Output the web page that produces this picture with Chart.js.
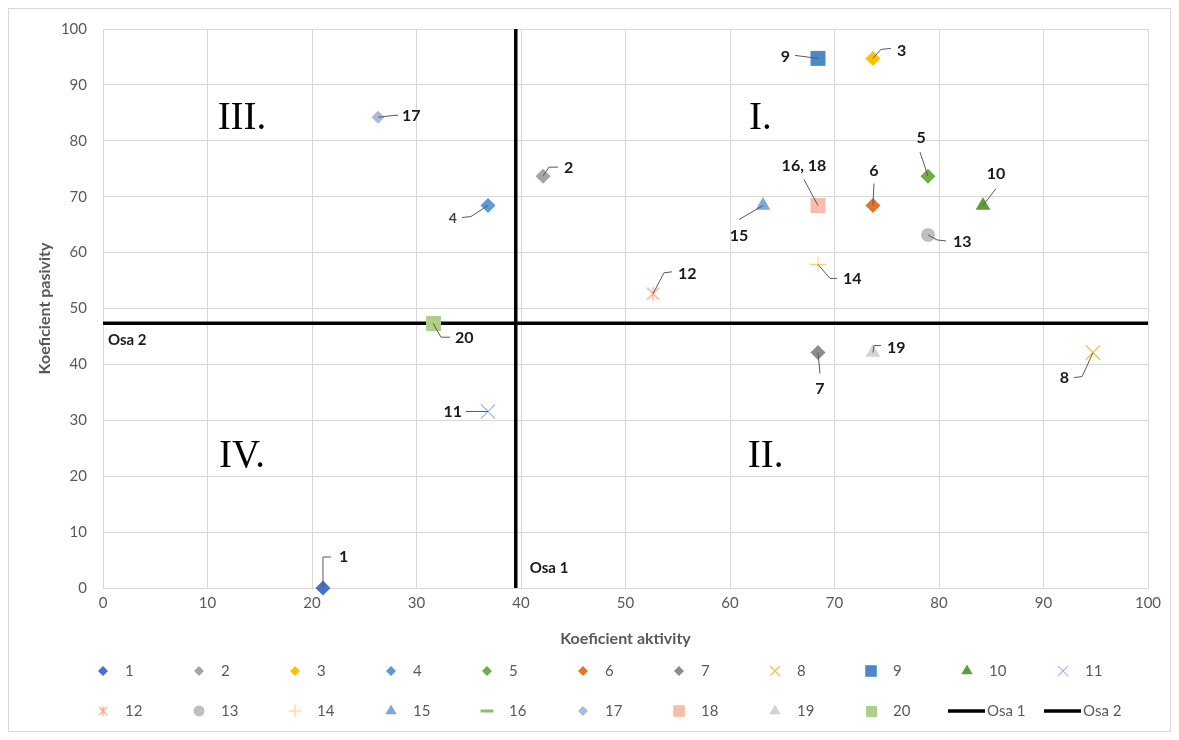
<!DOCTYPE html>
<html>
<head>
<meta charset="utf-8">
<script src="https://cdn.jsdelivr.net/npm/chart.js@4.4.0/dist/chart.umd.min.js"></script>
<style>
body { margin: 0; background: #fff; }
#wrap { position: relative; width: 1179px; height: 740px; }
#frame { position: absolute; left: 8px; top: 8px; width: 1161px; height: 722px; border: 1px solid #d9d9d9; pointer-events: none; }
</style>
</head>
<body>
<div id="wrap">
  <canvas id="myChart" width="1179" height="740"></canvas>
  <div id="frame"></div>
</div>
<script>
// data
var nazvy = ['1','2','3','4','5','6','7','8','9','10','11','12','13','14','15','16','17','18','19','20'];
var aktivita = [21.05, 42.11, 73.68, 36.84, 78.95, 73.68, 68.42, 94.74, 68.42, 84.21, 36.84, 52.63, 78.95, 68.42, 63.16, 68.42, 26.32, 68.42, 73.68, 31.58];
var pasivita = [0, 73.68, 94.74, 68.42, 73.68, 68.42, 42.11, 42.11, 94.74, 68.42, 31.58, 52.63, 63.16, 57.89, 68.42, 68.42, 84.21, 68.42, 42.11, 47.37];
var popisky = ['1','2','3','4','5','6','7','8','9','10','11','12','13','14','15','16, 18','17','','19','20'];
var osyNazvy = ['Osa 1', 'Osa 2'];
var osa1X = 39.5;
var osa2Y = 47.37;
var kvadranty = ['I.', 'II.', 'III.', 'IV.'];
var kvadrantX = [62.9, 63.4, 13.3, 13.3];
var kvadrantY = [83.9, 23.4, 83.9, 23.4];

// custom marker images
function hvezda(color, size) {
    var c = document.createElement('canvas');
    c.width = size; c.height = size;
    var g = c.getContext('2d');
    var h = size / 2;
    g.strokeStyle = color; g.lineWidth = 1.2;
    g.beginPath();
    g.moveTo(h, 0.5); g.lineTo(h, size - 0.5);
    g.moveTo(1.5, 1.5); g.lineTo(size - 1.5, size - 1.5);
    g.moveTo(size - 1.5, 1.5); g.lineTo(1.5, size - 1.5);
    g.stroke();
    return c;
}
function vzorek(color, size) {
    var c = document.createElement('canvas');
    c.width = size; c.height = size;
    var g = c.getContext('2d');
    g.fillStyle = color; g.fillRect(0, 0, size, size);
    g.strokeStyle = '#d2c57c'; g.lineWidth = 1;
    g.beginPath();
    g.moveTo(1, 1); g.lineTo(size - 1, size - 1);
    g.moveTo(size - 1, 1); g.lineTo(1, size - 1);
    g.stroke();
    return c;
}

// marker styles (s = style, r = radius in plot, lr = radius in legend)
var znacky = [
    { s: 'rectRot', r: 7.5, lr: 5, c: '#4472c4' },
    { s: 'rectRot', r: 7.5, lr: 5, c: '#a5a5a5' },
    { s: 'rectRot', r: 7.5, lr: 5, c: '#ffc000' },
    { s: 'rectRot', r: 7.5, lr: 5, c: '#5b9bd5' },
    { s: 'rectRot', r: 7.5, lr: 5, c: '#70ad47' },
    { s: 'rectRot', r: 7.5, lr: 5, c: '#e0762d' },
    { s: 'rectRot', r: 7.5, lr: 5, c: '#8c8c8c' },
    { s: 'crossRot', r: 10, lr: 7, c: '#f5c242', bw: 1.3 },
    { s: 'rect', r: 10.6, lr: 8.2, c: '#4e89c7' },
    { s: 'triangle', r: 8.5, lr: 6.5, c: '#5e9e3a' },
    { s: 'crossRot', r: 10, lr: 7, c: '#9bb0e0', bw: 1.1 },
    { s: hvezda('#f4a38a', 15), img: hvezda('#f4a38a', 11), c: '#f4a38a' },
    { s: 'circle', r: 7, lr: 5.5, c: '#bfbfbf' },
    { s: 'cross', r: 8, lr: 6.5, c: '#ffd27a', bw: 1.1 },
    { s: 'triangle', r: 8.5, lr: 6.5, c: '#7ea8da' },
    { s: 'line', r: 7, lr: 6.5, c: '#8dc26b', bw: 3 },
    { s: 'rectRot', r: 6.5, lr: 5, c: '#abb9df' },
    { s: 'rect', r: 10.6, lr: 8.2, c: '#f5bdaa' },
    { s: 'triangle', r: 8.5, lr: 6.5, c: '#d3d3d3' },
    { s: vzorek('#a9d18e', 15), img: vzorek('#a9d18e', 11), c: '#a9d18e' }
];

// label placement: t = text offset from point (px), a = align, p = leader polyline
var polohy = [
    { t: [16, -31], a: 'left', p: [[0, 0], [0, -31], [8, -31]] },
    { t: [21, -8], a: 'left', p: [[0, 0], [6, -9], [15, -9]] },
    { t: [24, -8], a: 'left', p: [[0, 0], [8, -9], [18, -10]] },
    { t: [-31, 13], a: 'right', p: [[0, 0], [-17, 11], [-26, 12]], small: true },
    { t: [-7, -38], a: 'center', p: [[0, 0], [-8, -24]] },
    { t: [1, -35], a: 'center', p: [[0, 0], [1, -22]] },
    { t: [2, 36], a: 'center', p: [[0, 0], [2, 21]] },
    { t: [-24, 25], a: 'right', p: [[0, 0], [-11, 24], [-19, 25]] },
    { t: [-28, -2], a: 'right', p: [[0, 0], [-23, -3]] },
    { t: [13, -32], a: 'center', p: [[0, 0], [13, -17]] },
    { t: [-26, 0], a: 'right', p: [[0, 0], [-22, 0]] },
    { t: [25, -20], a: 'left', p: [[0, 0], [11, -21], [19, -22]] },
    { t: [25, 7], a: 'left', p: [[0, 0], [9, 5], [18, 6]] },
    { t: [25, 14], a: 'left', p: [[0, 0], [12, 14], [19, 14]] },
    { t: [-24, 30], a: 'center', p: [[0, 0], [-24, 14]] },
    { t: [-14, -40], a: 'center', p: [[0, 0], [-14, -26]] },
    { t: [24, -1], a: 'left', p: [[0, 0], [17, -2], [20, -2]] },
    null,
    { t: [14, -5], a: 'left', p: [[0, 0], [1, -7], [8, -7]] },
    { t: [22, 15], a: 'left', p: [[0, 0], [8, 14], [17, 14]] }
];

var datasets = nazvy.map(function(n, i) {
    var m = znacky[i];
    return {
        label: n,
        data: [{ x: aktivita[i], y: pasivita[i] }],
        pointStyle: m.s,
        pointRadius: m.r || 8,
        pointHoverRadius: m.r || 8,
        backgroundColor: m.c,
        borderColor: m.c,
        borderWidth: m.bw || 0,
        clip: false,
        order: i === 15 ? 1 : 0
    };
});
datasets.push({
    label: osyNazvy[0],
    data: [{ x: osa1X, y: 0 }, { x: osa1X, y: 100 }],
    showLine: true, borderColor: '#000', backgroundColor: '#000', borderWidth: 3.5, pointRadius: 0, order: 2
});
datasets.push({
    label: osyNazvy[1],
    data: [{ x: 0, y: osa2Y }, { x: 100, y: osa2Y }],
    showLine: true, borderColor: '#000', backgroundColor: '#000', borderWidth: 3.5, pointRadius: 0, order: 2
});

var popiskyPlugin = {
    id: 'popisky',
    afterDatasetsDraw: function(chart) {
        var ctx = chart.ctx;
        var xs = chart.scales.x, ys = chart.scales.y;
        ctx.save();
        // quadrant names
        ctx.fillStyle = '#000';
        ctx.font = '39px "Liberation Serif", serif';
        ctx.textAlign = 'center';
        ctx.textBaseline = 'middle';
        kvadranty.forEach(function(k, i) {
            ctx.fillText(k, xs.getPixelForValue(kvadrantX[i]), ys.getPixelForValue(kvadrantY[i]));
        });
        // point labels
        nazvy.forEach(function(n, i) {
            var lp = polohy[i];
            if (!lp || !popisky[i]) return;
            var px = xs.getPixelForValue(aktivita[i]);
            var py = ys.getPixelForValue(pasivita[i]);
            ctx.strokeStyle = '#595959';
            ctx.lineWidth = 1;
            ctx.beginPath();
            lp.p.forEach(function(q, j) {
                if (j === 0) ctx.moveTo(px + q[0], py + q[1]);
                else ctx.lineTo(px + q[0], py + q[1]);
            });
            ctx.stroke();
            ctx.fillStyle = lp.small ? '#404040' : '#1a1a1a';
            ctx.font = lp.small ? 'bold 14px Lato' : 'bold 16px Lato';
            ctx.textAlign = lp.a;
            ctx.fillText(popisky[i], px + lp.t[0], py + lp.t[1]);
        });
        // axis line labels
        ctx.fillStyle = '#1a1a1a';
        ctx.font = 'bold 15px Lato';
        ctx.textAlign = 'left';
        ctx.fillText(osyNazvy[0], xs.getPixelForValue(osa1X) + 14, ys.getPixelForValue(0) - 20);
        ctx.fillText(osyNazvy[1], xs.getPixelForValue(0) + 5, ys.getPixelForValue(osa2Y) + 17);
        ctx.restore();
    }
};

var legendaPlugin = {
    id: 'legenda',
    afterDraw: function(chart) {
        var ctx = chart.ctx;
        var x0 = 103, krok = 96, radky = [671, 711];
        var polozky = nazvy.concat(osyNazvy);
        ctx.save();
        ctx.font = '15px Lato';
        ctx.textBaseline = 'middle';
        ctx.textAlign = 'left';
        polozky.forEach(function(n, i) {
            var x = x0 + (i % 11) * krok;
            var y = radky[Math.floor(i / 11)];
            if (i >= nazvy.length) {
                ctx.strokeStyle = '#000';
                ctx.lineWidth = 3.5;
                ctx.beginPath();
                ctx.moveTo(x - 19, y);
                ctx.lineTo(x + 18, y);
                ctx.stroke();
                ctx.fillStyle = '#595959';
                ctx.fillText(n, x + 20, y);
                return;
            }
            var m = znacky[i];
            if (m.img) {
                ctx.drawImage(m.img, x - m.img.width / 2, y - m.img.height / 2);
            } else {
                ctx.fillStyle = m.c;
                ctx.strokeStyle = m.c;
                ctx.lineWidth = m.bw || 1;
                Chart.helpers.drawPoint(ctx, { pointStyle: m.s, radius: m.lr, rotation: 0, borderWidth: m.bw || 0 }, x, y);
            }
            ctx.fillStyle = '#595959';
            ctx.fillText(n, x + 22, y);
        });
        ctx.restore();
    }
};

var config = {
    type: 'scatter',
    data: { datasets: datasets },
    options: {
        responsive: false,
        animation: false,
        events: [],
        layout: { padding: { left: 0, top: 29, right: 31, bottom: 92 } },
        plugins: { legend: { display: false }, tooltip: { enabled: false } },
        scales: {
            x: {
                type: 'linear', min: 0, max: 100,
                ticks: { stepSize: 10, color: '#595959', font: { family: 'Lato', size: 15 }, padding: 6, maxRotation: 0 },
                grid: { color: '#d9d9d9', drawTicks: false },
                border: { color: '#d9d9d9' },
                title: { display: true, text: 'Koeficient aktivity', color: '#595959', font: { family: 'Lato', size: 16, weight: 'bold' }, padding: { top: 0, bottom: 0 } },
                afterFit: function(s) { s.height = 60; }
            },
            y: {
                type: 'linear', min: 0, max: 100,
                ticks: { stepSize: 10, color: '#595959', font: { family: 'Lato', size: 15 }, padding: 16 },
                grid: { color: '#d9d9d9', drawTicks: false },
                border: { color: '#d9d9d9' },
                title: { display: true, text: 'Koeficient pasivity', color: '#595959', font: { family: 'Lato', size: 16, weight: 'bold' }, padding: { top: 35, bottom: 0 } },
                afterFit: function(s) { s.width = 103; }
            }
        }
    },
    plugins: [popiskyPlugin, legendaPlugin]
};

var myChart = new Chart(document.getElementById('myChart').getContext('2d'), config);
</script>
</body>
</html>
